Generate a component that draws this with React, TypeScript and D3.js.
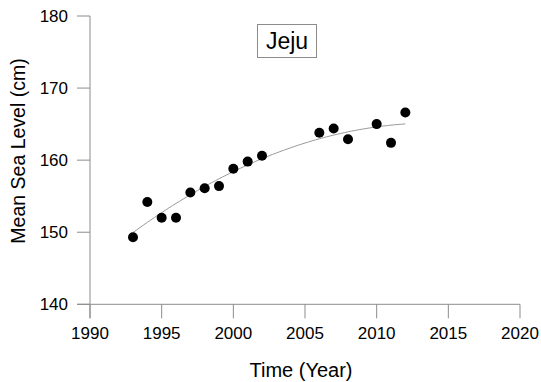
import React, { useEffect, useRef } from 'react';
import * as d3 from 'd3';

// annual mean sea level at Jeju (cm)
const years = [1993, 1994, 1995, 1996, 1997, 1998, 1999, 2000, 2001, 2002, 2006, 2007, 2008, 2010, 2011, 2012];
const levels = [149.3, 154.2, 152.0, 152.0, 155.5, 156.1, 156.4, 158.8, 159.8, 160.6, 163.8, 164.4, 162.9, 165.0, 162.4, 166.6];
const xTicks = [1990, 1995, 2000, 2005, 2010, 2015, 2020];
const yTicks = [140, 150, 160, 170, 180];
const stationName = 'Jeju';

// least squares quadratic fit, centered on the mean year
function quadFit(xs: number[], ys: number[]) {
  const mx = d3.mean(xs) as number;
  const u = xs.map(x => x - mx);
  const n = xs.length;
  const s = (p: number) => d3.sum(u, v => Math.pow(v, p));
  const t = (p: number) => d3.sum(u, (v, i) => Math.pow(v, p) * ys[i]);
  const A = [
    [n, s(1), s(2)],
    [s(1), s(2), s(3)],
    [s(2), s(3), s(4)],
  ];
  const b = [t(0), t(1), t(2)];
  // gaussian elimination
  for (let i = 0; i < 3; i++) {
    for (let k = i + 1; k < 3; k++) {
      const f = A[k][i] / A[i][i];
      for (let j = i; j < 3; j++) A[k][j] -= f * A[i][j];
      b[k] -= f * b[i];
    }
  }
  const c = [0, 0, 0];
  for (let i = 2; i >= 0; i--) {
    let acc = b[i];
    for (let j = i + 1; j < 3; j++) acc -= A[i][j] * c[j];
    c[i] = acc / A[i][i];
  }
  return (x: number) => c[0] + c[1] * (x - mx) + c[2] * (x - mx) * (x - mx);
}

export default function App() {
  const ref = useRef<SVGSVGElement>(null);

  useEffect(() => {
    const svg = d3.select(ref.current);
    svg.selectAll('*').remove();

    const x = d3.scaleLinear().domain([1990, 2020]).range([90, 520]);
    const y = d3.scaleLinear().domain([140, 180]).range([304.3, 16]);
    const axisColor = '#8c8c8c';
    const font = 'Arial, "Liberation Sans", sans-serif';

    // axis lines
    svg.append('line')
      .attr('x1', x(1990)).attr('x2', x(1990))
      .attr('y1', y(180)).attr('y2', y(140) + 14)
      .attr('stroke', axisColor);
    svg.append('line')
      .attr('x1', x(1990) - 13).attr('x2', x(2020))
      .attr('y1', y(140)).attr('y2', y(140))
      .attr('stroke', axisColor);

    // y ticks
    svg.append('g').selectAll('line')
      .data(yTicks).enter().append('line')
      .attr('x1', x(1990) - 13).attr('x2', x(1990))
      .attr('y1', d => y(d)).attr('y2', d => y(d))
      .attr('stroke', axisColor);
    svg.append('g').selectAll('text')
      .data(yTicks).enter().append('text')
      .attr('x', 68).attr('y', d => y(d))
      .attr('dy', '0.35em')
      .attr('text-anchor', 'end')
      .style('font-family', font).style('font-size', '17px')
      .text(d => d);

    // x ticks
    svg.append('g').selectAll('line')
      .data(xTicks).enter().append('line')
      .attr('x1', d => x(d)).attr('x2', d => x(d))
      .attr('y1', y(140)).attr('y2', y(140) + 14)
      .attr('stroke', axisColor);
    svg.append('g').selectAll('text')
      .data(xTicks).enter().append('text')
      .attr('x', d => x(d)).attr('y', 333)
      .attr('dy', '0.35em')
      .attr('text-anchor', 'middle')
      .style('font-family', font).style('font-size', '17px')
      .text(d => d);

    // axis titles
    svg.append('text')
      .attr('x', 301).attr('y', 370)
      .attr('dy', '0.35em')
      .attr('text-anchor', 'middle')
      .style('font-family', font).style('font-size', '20px')
      .text('Time (Year)');
    svg.append('text')
      .attr('transform', 'translate(18,151) rotate(-90)')
      .attr('dy', '0.35em')
      .attr('text-anchor', 'middle')
      .style('font-family', font).style('font-size', '19.5px')
      .text('Mean Sea Level (cm)');

    // fitted trend
    const fit = quadFit(years, levels);
    const xs = d3.range(years[0], years[years.length - 1] + 0.01, 0.25);
    svg.append('path')
      .attr('d', d3.line<number>().x(d => x(d)).y(d => y(fit(d)))(xs))
      .attr('fill', 'none')
      .attr('stroke', '#9a9a9a')
      .attr('stroke-width', 1);

    // observations
    svg.append('g').selectAll('circle')
      .data(years).enter().append('circle')
      .attr('cx', d => x(d))
      .attr('cy', (d, i) => y(levels[i]))
      .attr('r', 5)
      .attr('fill', '#000');

    // station label
    svg.append('rect')
      .attr('x', 257.5).attr('y', 24.5)
      .attr('width', 59).attr('height', 33)
      .attr('fill', '#fff')
      .attr('stroke', axisColor);
    svg.append('text')
      .attr('x', 287).attr('y', 41)
      .attr('dy', '0.35em')
      .attr('text-anchor', 'middle')
      .style('font-family', font).style('font-size', '23px')
      .text(stationName);
  }, []);

  return (
    <svg ref={ref} width={541} height={382}
      style={{ position: 'absolute', left: 0, top: 0, background: '#fff' }} />
  );
}
